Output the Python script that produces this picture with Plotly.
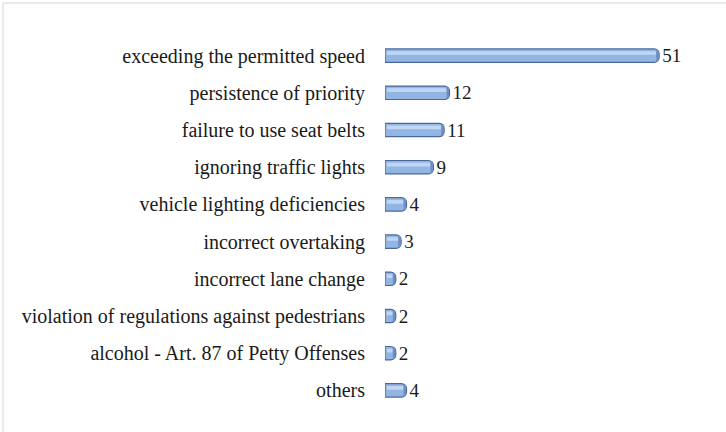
import plotly.graph_objects as go

# Offence categories and counts
categories = [
    "exceeding the permitted speed",
    "persistence of priority",
    "failure to use seat belts",
    "ignoring traffic lights",
    "vehicle lighting deficiencies",
    "incorrect overtaking",
    "incorrect lane change",
    "violation of regulations against pedestrians",
    "alcohol - Art. 87 of Petty Offenses",
    "others",
]
counts = [51, 12, 11, 9, 4, 3, 2, 2, 2, 4]

W, H = 726, 432
ML, MR, MT, MB = 385, 40, 37, 23
X_MAX = 56.0

serif = "'Liberation Serif', 'Times New Roman', serif"

fig = go.Figure()

# main cylinder body
fig.add_trace(go.Bar(
    y=categories, x=counts, orientation="h",
    width=0.36, offset=-0.18,
    marker=dict(color="#93b5e4", line=dict(color="#4a689c", width=1.2), cornerradius=5),
    text=[str(v) for v in counts], textposition="outside", constraintext="none",
    textfont=dict(family=serif, size=19, color="#1a1a1a"),
    cliponaxis=False, hoverinfo="skip",
))
# lighter highlight band across the upper half of each bar
fig.add_trace(go.Bar(
    y=categories, x=[max(v - 0.9, 0.3) for v in counts], base=[0.35] * len(counts),
    orientation="h",
    width=0.1, offset=-0.12,
    marker=dict(color="#c0d6f3", line=dict(width=0), cornerradius=3),
    hoverinfo="skip",
))
# shaded end cap of each cylinder
cap = 0.45
fig.add_trace(go.Bar(
    y=categories, x=[cap] * len(counts), base=[v - cap - 0.1 for v in counts],
    orientation="h",
    width=0.3, offset=-0.15,
    marker=dict(color="#6f8fc4", line=dict(width=0), cornerradius=2),
    hoverinfo="skip",
))

pw = W - ML - MR
ph = H - MT - MB
fig.add_shape(
    type="rect", xref="paper", yref="paper",
    x0=(3 - ML) / pw, x1=(W + 5 - ML) / pw,
    y0=(H - MB - (H + 5)) / ph, y1=(H - MB - 3) / ph,
    line=dict(color="#d6d6d6", width=1), fillcolor="rgba(0,0,0,0)", layer="below",
)

fig.update_layout(
    width=W, height=H,
    margin=dict(l=ML, r=MR, t=MT, b=MB),
    barmode="overlay",
    showlegend=False,
    font=dict(family=serif),
    paper_bgcolor="white", plot_bgcolor="white",
    xaxis=dict(range=[0, X_MAX], visible=False, fixedrange=True),
    yaxis=dict(
        autorange="reversed", showgrid=False, showline=False, zeroline=False,
        ticks="", ticklabelstandoff=19,
        tickfont=dict(family=serif, size=20, color="#1a1a1a"),
    ),
)

fig.write_html("out.html")
